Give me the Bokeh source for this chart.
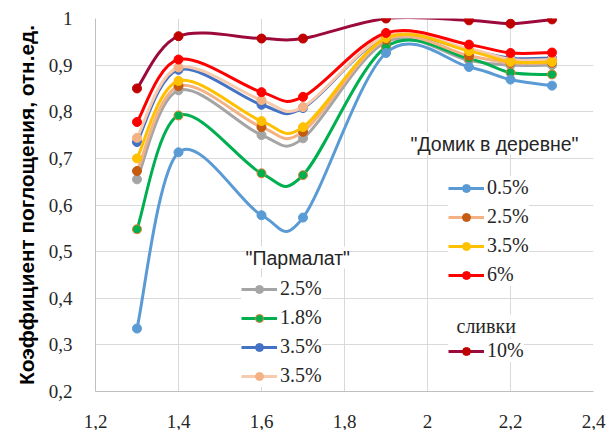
from bokeh.plotting import figure
from bokeh.models import (Range1d, FixedTicker, CustomJSTickFormatter, Legend,
                          LegendItem, Label)
from bokeh.embed import file_html
from bokeh.resources import INLINE

# ---------------- data ----------------
x_vals = [1.3, 1.4, 1.6, 1.7, 1.9, 2.1, 2.2, 2.3]

domik_05 = [0.335, 0.713, 0.578, 0.573, 0.926, 0.896, 0.869, 0.856]
domik_25 = [0.673, 0.855, 0.767, 0.757, 0.955, 0.920, 0.905, 0.905]
domik_35 = [0.700, 0.866, 0.780, 0.767, 0.958, 0.930, 0.907, 0.907]
domik_6 = [0.778, 0.912, 0.842, 0.832, 0.969, 0.944, 0.926, 0.927]
slivki_10 = [0.850, 0.962, 0.957, 0.957, 1.000, 0.996, 0.989, 0.998]
parm_25 = [0.655, 0.846, 0.750, 0.743, 0.950, 0.910, 0.900, 0.900]
parm_18 = [0.548, 0.792, 0.668, 0.664, 0.939, 0.914, 0.884, 0.880]
parm_35a = [0.735, 0.890, 0.815, 0.808, 0.960, 0.932, 0.915, 0.915]
parm_35b = [0.744, 0.895, 0.825, 0.810, 0.962, 0.935, 0.912, 0.912]

x_ticks = [1.2, 1.4, 1.6, 1.8, 2.0, 2.2, 2.4]
y_ticks = [0.2, 0.3, 0.4, 0.5, 0.6, 0.7, 0.8, 0.9, 1.0]

y_title = "Коэффициент поглощения, отн.ед."

SERIF = "'Liberation Serif'"
SANS = "'Liberation Sans'"


def smooth_segments(xs, ys):
    """Catmull-Rom style cubic Bezier segments through the points (Excel-like smoothing)."""
    n = len(xs)
    seg = dict(x0=[], y0=[], x1=[], y1=[], cx0=[], cy0=[], cx1=[], cy1=[])
    for i in range(n - 1):
        xp, yp = (xs[i - 1], ys[i - 1]) if i > 0 else (xs[i], ys[i])
        xn, yn = (xs[i + 2], ys[i + 2]) if i + 2 < n else (xs[i + 1], ys[i + 1])
        seg["x0"].append(xs[i]); seg["y0"].append(ys[i])
        seg["x1"].append(xs[i + 1]); seg["y1"].append(ys[i + 1])
        seg["cx0"].append(xs[i] + (xs[i + 1] - xp) / 6.0)
        seg["cy0"].append(ys[i] + (ys[i + 1] - yp) / 6.0)
        seg["cx1"].append(xs[i + 1] - (xn - xs[i]) / 6.0)
        seg["cy1"].append(ys[i + 1] - (yn - ys[i]) / 6.0)
    return seg


p = figure(width=606, height=430, output_backend="svg", toolbar_location=None,
           x_range=Range1d(1.2, 2.4), y_range=Range1d(0.2, 1.0),
           min_border_left=95, min_border_right=13, min_border_top=18,
           min_border_bottom=38, background_fill_color="white",
           border_fill_color="white")
p.outline_line_color = None

fmt = CustomJSTickFormatter(code="return (Math.round(tick*10)/10).toString().replace('.', ',');")
p.xaxis.ticker = FixedTicker(ticks=x_ticks)
p.yaxis.ticker = FixedTicker(ticks=y_ticks)
p.xaxis.formatter = fmt
p.yaxis.formatter = fmt
for ax in (p.xaxis, p.yaxis):
    ax.major_label_text_font = SERIF
    ax.major_label_text_font_size = "19px"
    ax.major_label_text_color = "#262626"
    ax.axis_line_color = "#BFBFBF"
    ax.major_tick_line_color = None
    ax.minor_tick_line_color = None
p.xaxis.major_label_standoff = 17
p.yaxis.major_label_standoff = 17
p.yaxis.axis_label = y_title
p.yaxis.axis_label_text_font = SANS
p.yaxis.axis_label_text_font_style = "bold"
p.yaxis.axis_label_text_font_size = "20.8px"
p.yaxis.axis_label_text_color = "black"
p.yaxis.axis_label_standoff = 8
p.xgrid.grid_line_color = "#D9D9D9"
p.ygrid.grid_line_color = "#D9D9D9"

# series: (values, line colour, marker fill, marker outline)
series = {
    "parm_25": (parm_25, "#A5A5A5", "#A5A5A5", "#A5A5A5"),
    "parm_18": (parm_18, "#00B050", "#00B050", "#ED7D31"),
    "parm_35a": (parm_35a, "#4472C4", "#4472C4", "#4472C4"),
    "parm_35b": (parm_35b, "#F8CBAD", "#F4B183", "#F4B183"),
    "domik_05": (domik_05, "#5B9BD5", "#5B9BD5", "#5B9BD5"),
    "domik_25": (domik_25, "#F4B183", "#C55A11", "#C55A11"),
    "domik_35": (domik_35, "#FFC000", "#FFC000", "#FFC000"),
    "domik_6": (domik_6, "#FF0000", "#FF0000", "#FF0000"),
    "slivki_10": (slivki_10, "#9B0A3A", "#C00000", "#C00000"),
}

rends = {}
for key, (vals, lc, mf, ml) in series.items():
    seg = smooth_segments(x_vals, vals)
    rl = p.bezier(source=seg, x0="x0", y0="y0", x1="x1", y1="y1",
                  cx0="cx0", cy0="cy0", cx1="cx1", cy1="cy1",
                  line_color=lc, line_width=3)
    rp = p.scatter(x_vals, vals, size=9, fill_color=mf, line_color=ml,
                   line_width=1)
    rends[key] = [rl, rp]


def make_legend(entries, loc, padding):
    lg = Legend(items=[LegendItem(label=lab, renderers=rends[k]) for lab, k in entries],
                location=loc, padding=padding, margin=0, spacing=6,
                glyph_width=36, glyph_height=20, label_height=20,
                label_standoff=3, label_text_font=SERIF,
                label_text_font_size="20px", label_text_color="#262626",
                border_line_color=None, background_fill_color="white",
                background_fill_alpha=1.0)
    p.add_layout(lg)
    return lg


make_legend([("0.5%", "domik_05"), ("2.5%", "domik_25"), ("3.5%", "domik_35"),
             ("6%", "domik_6")], (353, 105), 10)
make_legend([("2.5%", "parm_25"), ("1.8%", "parm_18"), ("3.5%", "parm_35a"),
             ("3.5%", "parm_35b")], (146, 4), 4)
make_legend([("10%", "slivki_10")], (353, 29), 4)

for txt, x, y, font, size in [('"Домик в деревне"', 315, 248, SANS, "19.5px"),
                              ('"Пармалат"', 150, 134, SANS, "19.5px"),
                              ("сливки", 361, 66, SERIF, "20px")]:
    p.add_layout(Label(x=x, y=y, x_units="screen", y_units="screen", text=txt,
                       text_font=font, text_font_size=size,
                       text_color="#262626", text_baseline="middle",
                       text_align="left", background_fill_color="white",
                       background_fill_alpha=1.0))

open("out.html", "w").write(file_html(p, INLINE))
